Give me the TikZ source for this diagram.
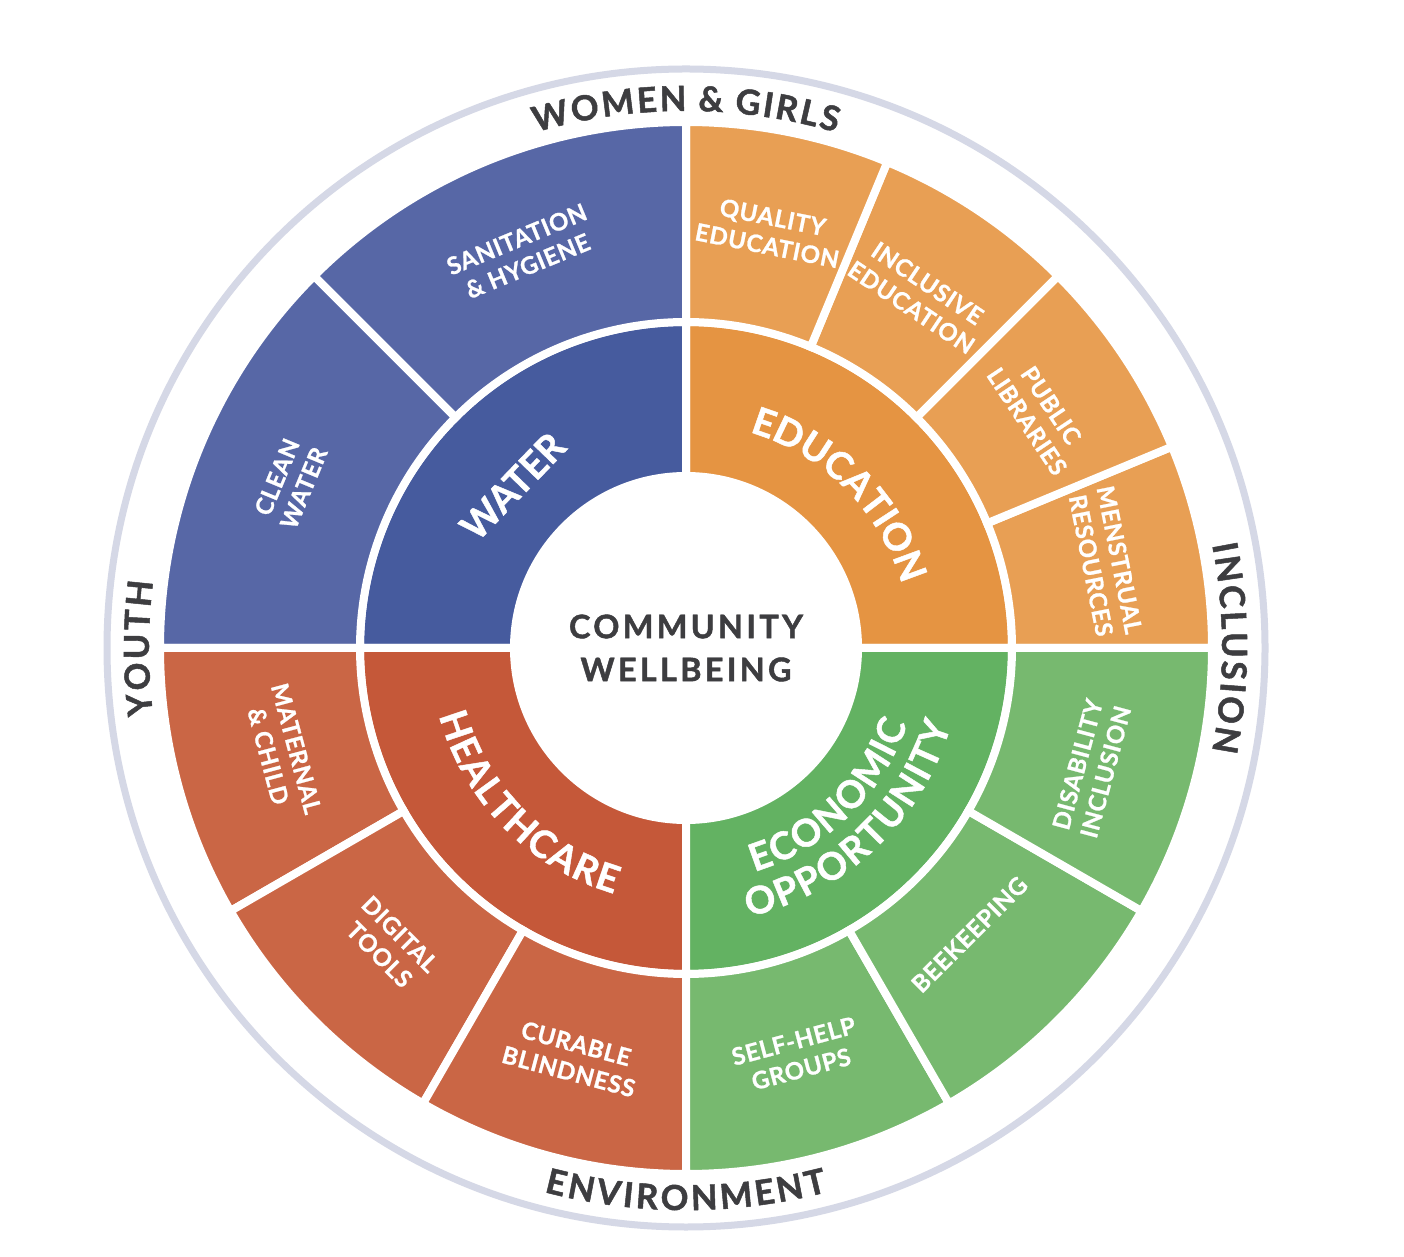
\documentclass[tikz,border=0pt]{standalone}
\usepackage{fontspec}
\setmainfont{Lato}
\newfontfamily\fCenter{Lato}[LetterSpace=10, FakeBold=1.4]
\newfontfamily\fRing{Lato}[FakeBold=1.4]
\newfontfamily\fMid{Lato}[FakeBold=1.2]
\newfontfamily\fSub{Lato}[LetterSpace=3, FakeBold=1.0]
\usetikzlibrary{decorations.text}
\definecolor{blueIn}{RGB}{70,91,158}
\definecolor{blueOut}{RGB}{87,103,166}
\definecolor{orangeIn}{RGB}{229,148,66}
\definecolor{orangeOut}{RGB}{232,159,84}
\definecolor{redIn}{RGB}{197,88,57}
\definecolor{redOut}{RGB}{202,102,69}
\definecolor{greenIn}{RGB}{99,178,98}
\definecolor{greenOut}{RGB}{119,185,111}
\definecolor{ringgray}{RGB}{213,216,230}
\definecolor{darktext}{RGB}{61,61,64}
\newcommand\mySubFont{\fSub\bfseries\fontsize{24}{29}\selectfont}
\newcommand\myMidFont{\fMid\bfseries\fontsize{38}{44}\selectfont}
\newcommand\myRingFont{\fRing\bfseries\fontsize{34.5}{40}\selectfont}
\newcommand\myCenterFont{\fCenter\bfseries\fontsize{32.5}{43}\selectfont}
\newcommand\annsec[5]{\filldraw[seg, fill=#1] (#2:#4) arc[start angle=#2, end angle=#3, radius=#4] -- (#3:#5) arc[start angle=#3, end angle=#2, radius=#5] -- cycle;}
\tikzset{
  seg/.style={draw=white, line width=8pt, line join=miter},
  sublbl/.style={text=white, font=\mySubFont, align=center, inner sep=0pt},
  midlbl/.style={text=white, font=\myMidFont, align=center, inner sep=0pt},
  centerlbl/.style={text=darktext, font=\myCenterFont, align=center, inner sep=0pt},
}
\begin{document}
\begin{tikzpicture}[x=1pt,y=1pt]
\useasboundingbox (0,0) rectangle (1404,1256);
\fill[white] (0,0) rectangle (1404,1256);
\begin{scope}[shift={(686,608)}]
\draw[ringgray, line width=7pt] (0,0) circle[radius=579pt];
% middle ring
\annsec{orangeIn}{0}{90}{172pt}{326pt}
\annsec{blueIn}{90}{180}{172pt}{326pt}
\annsec{redIn}{180}{270}{172pt}{326pt}
\annsec{greenIn}{270}{360}{172pt}{326pt}
% outer ring
\annsec{orangeOut}{0}{22.5}{326pt}{526pt}
\annsec{orangeOut}{22.5}{45}{326pt}{526pt}
\annsec{orangeOut}{45}{67.5}{326pt}{526pt}
\annsec{orangeOut}{67.5}{90}{326pt}{526pt}
\annsec{blueOut}{90}{135}{326pt}{526pt}
\annsec{blueOut}{135}{180}{326pt}{526pt}
\annsec{redOut}{180}{210}{326pt}{526pt}
\annsec{redOut}{210}{240}{326pt}{526pt}
\annsec{redOut}{240}{270}{326pt}{526pt}
\annsec{greenOut}{270}{300}{326pt}{526pt}
\annsec{greenOut}{300}{330}{326pt}{526pt}
\annsec{greenOut}{330}{360}{326pt}{526pt}
% centre
\node[centerlbl] (centre) at (0,0) {COMMUNITY\\WELLBEING};
% outer labels
\node[sublbl, rotate=22.5] (sanitation) at (112.5:428pt) {SANITATION\\\& HYGIENE};
\node[sublbl, rotate=67.5] (cleanwater) at (157.3:429pt) {CLEAN\\WATER};
\node[sublbl, rotate=-11.25] (quality) at (78.6:425pt) {QUALITY\\EDUCATION};
\node[sublbl, rotate=-33.75] (inclusive) at (56.5:423pt) {INCLUSIVE\\EDUCATION};
\node[sublbl, rotate=-56.25] (libraries) at (33.6:424pt) {PUBLIC\\LIBRARIES};
\node[sublbl, rotate=-78.75] (menstrual) at (11.5:428pt) {MENSTRUAL\\RESOURCES};
\node[sublbl, rotate=75] (disability) at (343.5:423pt) {DISABILITY\\INCLUSION};
\node[sublbl, rotate=45] (beekeeping) at (314.7:403pt) {BEEKEEPING};
\node[sublbl, rotate=15] (selfhelp) at (285.3:422pt) {SELF-HELP\\GROUPS};
\node[sublbl, rotate=-15] (curable) at (254.5:425pt) {CURABLE\\BLINDNESS};
\node[sublbl, rotate=-45] (digital) at (225:419pt) {DIGITAL\\TOOLS};
\node[sublbl, rotate=-75] (maternal) at (194.5:417pt) {MATERNAL\\\& CHILD};
% middle labels
\node[midlbl, rotate=46] (water) at (137:237pt) {WATER};
\path[decorate, decoration={text along path, text align=center, text={|\myMidFont\color{white}|EDUCATION}}]
  (95:225pt) arc[start angle=95, end angle=-5, radius=225pt];
\path[decorate, decoration={text along path, text align=center, text={|\myMidFont\color{white}|H{\kern1.5pt}E{\kern1.5pt}A{\kern1.5pt}L{\kern1.5pt}T{\kern1.5pt}H{\kern1.5pt}C{\kern1.5pt}A{\kern1.5pt}R{\kern1.5pt}E}}]
  (174.5:256pt) arc[start angle=174.5, end angle=274.5, radius=256pt];
\path[decorate, decoration={text along path, text align=center, text={|\myMidFont\color{white}|E{\kern1.5pt}C{\kern1.5pt}O{\kern1.5pt}N{\kern1.5pt}O{\kern1.5pt}M{\kern1.5pt}I{\kern1.5pt}C}}]
  (264:234pt) arc[start angle=264, end angle=364, radius=234pt];
\path[decorate, decoration={text along path, text align=center, text={|\myMidFont\color{white}|O{\kern2pt}P{\kern2pt}P{\kern2pt}O{\kern2pt}R{\kern2pt}T{\kern2pt}U{\kern2pt}N{\kern2pt}I{\kern2pt}T{\kern2pt}Y}}]
  (263.5:276pt) arc[start angle=263.5, end angle=363.5, radius=276pt];
% ring labels
\path[decorate, decoration={text along path, text align=center, text={|\myRingFont\color{darktext}|W{\kern2.4pt}O{\kern2.4pt}M{\kern2.4pt}E{\kern2.4pt}N{\kern3pt} {\&}{\kern3pt} G{\kern2.4pt}I{\kern2.4pt}R{\kern2.4pt}L{\kern2.4pt}S}}]
  (170:537pt) arc[start angle=170, end angle=10, radius=537pt];
\path[decorate, decoration={text along path, text align=center, text={|\myRingFont\color{darktext}|Y{\kern2.6pt}O{\kern2.6pt}U{\kern2.6pt}T{\kern2.6pt}H}}]
  (260:537pt) arc[start angle=260, end angle=100, radius=537pt];
\path[decorate, decoration={text along path, text align=center, text={|\myRingFont\color{darktext}|I{\kern2.6pt}N{\kern2.6pt}C{\kern2.6pt}L{\kern2.6pt}U{\kern2.6pt}S{\kern2.6pt}I{\kern2.6pt}O{\kern2.6pt}N}}]
  (80:536pt) arc[start angle=80, end angle=-80, radius=536pt];
\path[decorate, decoration={text along path, text align=center, text={|\myRingFont\color{darktext}|E{\kern3pt}N{\kern3pt}V{\kern3pt}I{\kern3pt}R{\kern3pt}O{\kern3pt}N{\kern3pt}M{\kern3pt}E{\kern3pt}N{\kern3pt}T}}]
  (190:562pt) arc[start angle=190, end angle=350, radius=562pt];
\end{scope}
\end{tikzpicture}
\end{document}
